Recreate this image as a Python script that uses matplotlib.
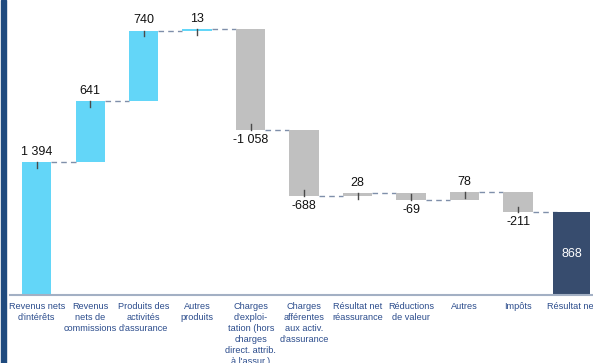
import matplotlib.pyplot as plt
from matplotlib.patches import Rectangle

# Waterfall data
categories = [
    "Revenus nets\nd'intérêts",
    "Revenus\nnets de\ncommissions",
    "Produits des\nactivités\nd'assurance",
    "Autres\nproduits",
    "Charges\nd'exploi-\ntation (hors\ncharges\ndirect. attrib.\nà l'assur.)",
    "Charges\nafférentes\naux activ.\nd'assurance",
    "Résultat net\nréassurance",
    "Réductions\nde valeur",
    "Autres",
    "Impôts",
    "Résultat net",
]
changes = [1394, 641, 740, 13, -1058, -688, 28, -69, 78, -211]
total = 868

blue = '#63D6F8'
grey = '#C0C0C0'
navy = '#374C6E'
label_col = '#2B4C8C'


def fmt(v):
    s = f"{abs(v):,}".replace(",", " ")
    return ("-" if v < 0 else "") + s


plt.rcParams['font.family'] = ['Liberation Sans', 'DejaVu Sans']

fig = plt.figure(figsize=(5.93, 3.63), dpi=100)
ax = fig.add_axes([10 / 593, (363 - 295) / 363, 1 - 10 / 593, 295 / 363])

# left border strip
fig.patches.append(Rectangle((1 / 593, 0), 5 / 593, 1, transform=fig.transFigure,
                             color='#1F4A7E', zorder=0))

width = 0.55
tick_len = 60  # data units, ~6 px
level = 0
for i, v in enumerate(changes):
    start, end = level, level + v
    color = blue if i < 4 else grey
    ax.bar(i, v, bottom=start, width=width, color=color, zorder=2)
    # small tick at the end of the bar
    d = -tick_len if v > 0 else tick_len
    ax.plot([i, i], [end, end + d], color='#4A4A4A', lw=1, zorder=3)
    if v > 0:
        ax.annotate(fmt(v), (i, end), xytext=(0, 3), textcoords='offset points',
                    ha='center', va='bottom', fontsize=9, color='#111111')
    else:
        ax.annotate(fmt(v), (i, end), xytext=(0, -3), textcoords='offset points',
                    ha='center', va='top', fontsize=9, color='#111111')
    # connector to next bar
    ax.plot([i + width / 2, i + 1 - width / 2], [end, end], color='#7F8FAA',
            lw=1, ls=(0, (4, 3)), zorder=1)
    level = end

n = len(changes)
ax.bar(n, total, width=0.68, color=navy, zorder=2)
ax.text(n, total / 2, fmt(total), ha='center', va='center', fontsize=9, color='white')

ax.set_xlim(-0.5, 10.4)
ax.set_ylim(0, 3095)
ax.set_xticks(range(len(categories)))
ax.set_xticklabels(categories, fontsize=6.6, color=label_col, linespacing=1.3)
ax.tick_params(axis='x', length=0, pad=5)
ax.set_yticks([])
for s in ['top', 'right', 'left']:
    ax.spines[s].set_visible(False)
ax.spines['bottom'].set_color('#A3B0C4')
ax.spines['bottom'].set_linewidth(1.5)

fig.savefig('out.png', dpi=100)
